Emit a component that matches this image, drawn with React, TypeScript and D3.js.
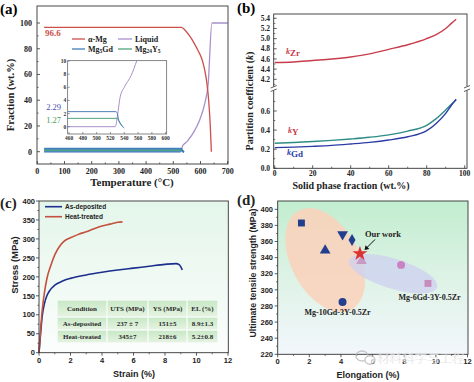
import React from 'react';
import * as d3 from 'd3';

const serif = '"Liberation Serif","Times New Roman",serif';
const sans = '"Liberation Sans",Arial,sans-serif';

// ---------- Panel (a): phase fractions vs temperature ----------
const alphaT = [25, 530, 545, 560, 575, 590, 605, 615, 623, 630, 636, 640];
const alphaF = [96.6, 96.6, 94, 90, 85, 79, 72, 64, 54, 40, 20, 0];
const liqT = [25, 527, 531, 534, 540, 550, 558, 573, 597, 616, 628, 642, 700];
const liqF = [0, 0, 2.3, 4.5, 6, 7.8, 10, 14.5, 24.6, 37.8, 52, 100, 100];
const gdT = [25, 528, 530, 532, 540];
const gdF = [2.29, 2.29, 2.0, 1.0, -0.2];
const yT = [25, 530, 532, 538];
const yF = [1.27, 1.27, 0.9, 0];
const aXTicks = [0, 100, 200, 300, 400, 500, 600, 700];
const aYTicks = [0, 20, 40, 60, 80, 100];
const insetXTicks = [460, 480, 500, 520, 540, 560, 580, 600];
const insetYTicks = [0, 2, 4, 6, 8, 10];

// ---------- Panel (b): partition coefficients ----------
const fracB = [0, 10, 20, 30, 40, 50, 60, 70, 80, 85, 90, 93, 95.5];
const kZr = [4.53, 4.54, 4.57, 4.6, 4.64, 4.7, 4.79, 4.88, 5.0, 5.08, 5.2, 5.3, 5.38];
const kY = [0.262, 0.27, 0.28, 0.292, 0.307, 0.325, 0.35, 0.39, 0.45, 0.52, 0.61, 0.67, 0.715];
const kGd = [0.216, 0.222, 0.23, 0.24, 0.255, 0.272, 0.296, 0.33, 0.394, 0.47, 0.575, 0.66, 0.725];
const bXTicks = [0, 20, 40, 60, 80, 100];
const bUpperTicks = [4.2, 4.4, 4.6, 4.8, 5.0, 5.2, 5.4];
const bLowerTicks = [0.0, 0.2, 0.4, 0.6];

// ---------- Panel (c): stress-strain ----------
const asDepStrain = [0, 0.1, 0.2, 0.35, 0.5, 0.7, 1, 1.5, 2, 3, 4, 5, 6, 7, 8, 8.7, 8.9, 9.1];
const asDepStress = [0, 50, 95, 130, 150, 165, 178, 189, 196, 205, 212, 218, 223, 228, 233, 235, 232, 218];
const heatStrain = [0, 0.1, 0.2, 0.35, 0.5, 0.75, 1, 1.3, 1.6, 2, 2.5, 3, 3.5, 4, 4.5, 5, 5.3];
const heatStress = [0, 60, 110, 160, 195, 230, 258, 280, 294, 303, 312, 319, 327, 334, 339, 344, 345];
const cXTicks = [0, 2, 4, 6, 8, 10, 12];
const cYTicks = [0, 50, 100, 150, 200, 250, 300, 350, 400];
const tableHeader = ['Condition', 'UTS (MPa)', 'YS (MPa)', 'EL (%)'];
const tableRows = [
  ['As-deposited', '237 ± 7', '151±5', '8.9±1.3'],
  ['Heat-treated', '345±7', '218±6', '5.2±0.8'],
];

// ---------- Panel (d): UTS vs elongation ----------
const dPoints = [
  { x: 1.5, y: 383, shape: 'square', color: '#223f8e' },
  { x: 4.1, y: 369, shape: 'invtri', color: '#223f8e' },
  { x: 4.7, y: 362, shape: 'diamond', color: '#223f8e' },
  { x: 3.0, y: 349, shape: 'triangle', color: '#223f8e' },
  { x: 4.1, y: 285, shape: 'circle', color: '#223f8e' },
  { x: 5.3, y: 336, shape: 'triangle', color: '#c99ac4' },
  { x: 7.8, y: 331, shape: 'circle', color: '#c983c3' },
  { x: 9.5, y: 308, shape: 'square', color: '#c78bbd' },
  { x: 5.2, y: 345, shape: 'star', color: '#db3232' },
];
const dXTicks = [0, 2, 4, 6, 8, 10, 12];
const dYTicks = [220, 240, 260, 280, 300, 320, 340, 360, 380, 400];

const zip = (xs: number[], ys: number[]) => xs.map((x, i) => [x, ys[i]] as [number, number]);

function lineOf(xs: any, ys: any, data: [number, number][], curve = d3.curveMonotoneX) {
  return d3.line<[number, number]>().x(d => xs(d[0])).y(d => ys(d[1])).curve(curve)(data) || '';
}

export default function App() {
  const xa = d3.scaleLinear().domain([0, 700]).range([37.3, 227.7]);
  const ya = d3.scaleLinear().domain([0, 100]).range([151.7, 23]);
  const xi = d3.scaleLinear().domain([460, 600]).range([69, 165.7]);
  const yi = d3.scaleLinear().domain([0, 10]).range([126.7, 61]);
  const xb = d3.scaleLinear().domain([0, 100]).range([274.7, 464.7]);
  const ybU = d3.scaleLinear().domain([4.2, 5.4]).range([79.3, 18.3]);
  const ybL = d3.scaleLinear().domain([0, 0.6]).range([168.3, 111]);
  const xc = d3.scaleLinear().domain([0, 12]).range([39, 228]);
  const yc = d3.scaleLinear().domain([0, 400]).range([352.7, 201]);
  const xd = d3.scaleLinear().domain([0, 12]).range([277.7, 467.5]);
  const yd = d3.scaleLinear().domain([220, 400]).range([354.3, 209.3]);

  const aBox = { x0: 37, x1: 228, y0: 6, y1: 164 };
  const iBox = { x0: 67.7, x1: 166.7, y0: 60.7, y1: 134 };
  const bBox = { x0: 273.7, x1: 467, y0: 14, y1: 168.3 };
  const cBox = { x0: 39, x1: 228.3, y0: 201, y1: 352.7 };
  const dBox = { x0: 277.7, x1: 468, y0: 201, y1: 354.3 };

  const cAlpha = '#cc4f4c', cLiq = '#a890cc', cGd = '#3f80b8', cY5 = '#4fa57c';

  const mid = (arr: number[]) => arr.slice(0, -1).map((v, i) => (v + arr[i + 1]) / 2);

  const symbolPath = (shape: string) => {
    const map: any = {
      square: [d3.symbolSquare, 48],
      invtri: [d3.symbolTriangle, 50],
      triangle: [d3.symbolTriangle, 50],
      diamond: [d3.symbolDiamond, 42],
      circle: [d3.symbolCircle, 50],
      star: [d3.symbolStar, 70],
    };
    const [t, s] = map[shape];
    return d3.symbol().type(t).size(s)() || '';
  };

  const ellO = { cx: 3.0, cy: 337, rx: 56, ry: 34, rot: 62 };
  const ellB = { cx: 7.3, cy: 320, rx: 46, ry: 15, rot: 17 };

  const tCols = [57, 107, 148, 187, 218];
  const tRowsY = [300, 317, 330, 343];

  return (
    <svg width={474} height={382} style={{ position: 'absolute', left: 0, top: 0, background: '#fff' }}>
      <defs>
        <linearGradient id="gd" x1="0" y1="0" x2="0" y2="1">
          <stop offset="0" stopColor="#c2edcf" />
          <stop offset="0.55" stopColor="#e0f3e8" />
          <stop offset="1" stopColor="#f2f7fc" />
        </linearGradient>
        <linearGradient id="gc" x1="0" y1="0" x2="0" y2="1">
          <stop offset="0" stopColor="#e4f6ea" />
          <stop offset="1" stopColor="#fbfdfc" />
        </linearGradient>
        <linearGradient id="gt" x1="0" y1="0" x2="0" y2="1">
          <stop offset="0" stopColor="#c9e8c6" />
          <stop offset="1" stopColor="#e4f3e1" />
        </linearGradient>
        <clipPath id="clipA"><rect x={aBox.x0} y={aBox.y0} width={aBox.x1 - aBox.x0} height={aBox.y1 - aBox.y0} /></clipPath>
        <clipPath id="clipI"><rect x={iBox.x0} y={iBox.y0} width={iBox.x1 - iBox.x0} height={iBox.y1 - iBox.y0} /></clipPath>
      </defs>

      {/* ================= Panel (a) ================= */}
      <g fontFamily={serif} fontWeight="bold">
        <text x={0} y={14} fontSize={15}>(a)</text>
        <g clipPath="url(#clipA)" fill="none">
          <path d={lineOf(xa, ya, zip(liqT, liqF))} stroke={cLiq} strokeWidth={1.3} />
          <path d={lineOf(xa, ya, zip(yT, yF))} stroke={cY5} strokeWidth={1.8} />
          <path d={lineOf(xa, ya, zip(gdT, gdF))} stroke={cGd} strokeWidth={2.2} />
          <path d={lineOf(xa, ya, zip(liqT.slice(0, 2), liqF.slice(0, 2)))} stroke="#4a88bf" strokeWidth={1.6} />
          <path d={lineOf(xa, ya, zip(alphaT, alphaF))} stroke={cAlpha} strokeWidth={1.3} />
        </g>
        <rect x={aBox.x0} y={aBox.y0} width={aBox.x1 - aBox.x0} height={aBox.y1 - aBox.y0} fill="none" stroke="#333" strokeWidth={0.9} />
        {aXTicks.map(t => (
          <g key={'ax' + t}>
            <line x1={xa(t)} x2={xa(t)} y1={aBox.y1} y2={aBox.y1 - 3} stroke="#333" strokeWidth={0.8} />
            <text x={xa(t)} y={173.5} fontSize={8} textAnchor="middle" fill="#222">{t}</text>
          </g>
        ))}
        {mid(aXTicks).map(t => (
          <line key={'axm' + t} x1={xa(t)} x2={xa(t)} y1={aBox.y1} y2={aBox.y1 - 1.6} stroke="#333" strokeWidth={0.7} />
        ))}
        {aYTicks.map(t => (
          <g key={'ay' + t}>
            <line x1={aBox.x0} x2={aBox.x0 + 3} y1={ya(t)} y2={ya(t)} stroke="#333" strokeWidth={0.8} />
            <text x={32} y={ya(t) + 2.8} fontSize={8} textAnchor="end" fill="#222">{t}</text>
          </g>
        ))}
        {mid(aYTicks).map(t => (
          <line key={'aym' + t} x1={aBox.x0} x2={aBox.x0 + 1.6} y1={ya(t)} y2={ya(t)} stroke="#333" strokeWidth={0.7} />
        ))}
        <text x={132} y={185.5} fontSize={11} textAnchor="middle" fill="#222">Temperature (°C)</text>
        <text transform="translate(14,95) rotate(-90)" fontSize={10.5} textAnchor="middle" fill="#222">Fraction (wt.%)</text>
        <text x={45} y={36} fontSize={9} fill={cAlpha}>96.6</text>

        <g fontSize={8} fill="#222">
          <line x1={72} x2={85} y1={39} y2={39} stroke={cAlpha} strokeWidth={1.3} />
          <text x={88} y={41.5}>α-Mg</text>
          <line x1={118} x2={132} y1={39} y2={39} stroke={cLiq} strokeWidth={1.3} />
          <text x={135} y={41.5}>Liquid</text>
          <line x1={72} x2={85} y1={49} y2={49} stroke={cGd} strokeWidth={1.3} />
          <text x={88} y={51.5}>Mg<tspan fontSize={5.5} dy={1.5}>5</tspan><tspan dy={-1.5}>Gd</tspan></text>
          <line x1={118} x2={132} y1={49} y2={49} stroke={cY5} strokeWidth={1.3} />
          <text x={135} y={51.5}>Mg<tspan fontSize={5.5} dy={1.5}>24</tspan><tspan dy={-1.5}>Y</tspan><tspan fontSize={5.5} dy={1.5}>5</tspan></text>
        </g>

        {/* inset */}
        <rect x={iBox.x0} y={iBox.y0} width={iBox.x1 - iBox.x0} height={iBox.y1 - iBox.y0} fill="#fff" stroke="#555" strokeWidth={0.7} />
        <g clipPath="url(#clipI)" fill="none">
          <path d={lineOf(xi, yi, zip(liqT, liqF))} stroke={cLiq} strokeWidth={1} />
          <path d={lineOf(xi, yi, zip(yT, yF))} stroke={cY5} strokeWidth={1} />
          <path d={lineOf(xi, yi, zip(gdT, gdF))} stroke="#4f7fb8" strokeWidth={1} />
        </g>
        {insetXTicks.map(t => (
          <g key={'ix' + t}>
            <line x1={xi(t)} x2={xi(t)} y1={iBox.y1} y2={iBox.y1 - 2} stroke="#555" strokeWidth={0.6} />
            <text x={xi(t)} y={140} fontSize={5.5} textAnchor="middle" fill="#333">{t}</text>
          </g>
        ))}
        {insetYTicks.map(t => (
          <g key={'iy' + t}>
            <line x1={iBox.x0} x2={iBox.x0 + 2} y1={yi(t)} y2={yi(t)} stroke="#555" strokeWidth={0.6} />
            <text x={iBox.x0 - 1.5} y={yi(t) + 2} fontSize={5.5} textAnchor="end" fill="#333">{t}</text>
          </g>
        ))}
        <text x={61} y={110} fontSize={8.5} textAnchor="end" fill="#4a4cae" fontWeight="normal">2.29</text>
        <text x={61} y={123} fontSize={8.5} textAnchor="end" fill="#4a9a5c" fontWeight="normal">1.27</text>
      </g>

      {/* ================= Panel (b) ================= */}
      <g fontFamily={serif} fontWeight="bold">
        <text x={237} y={13} fontSize={15}>(b)</text>
        <g fill="none">
          <path d={lineOf(xb, ybU, zip(fracB, kZr))} stroke="#c83d4c" strokeWidth={1.4} />
          <path d={lineOf(xb, ybL, zip(fracB, kY))} stroke="#2e8c86" strokeWidth={1.4} />
          <path d={lineOf(xb, ybL, zip(fracB, kGd))} stroke="#2c3ca6" strokeWidth={1.4} />
        </g>
        <rect x={bBox.x0} y={bBox.y0} width={bBox.x1 - bBox.x0} height={bBox.y1 - bBox.y0} fill="none" stroke="#333" strokeWidth={0.9} />
        <rect x={bBox.x0 - 2} y={86.5} width={4} height={4} fill="#fff" />
        <rect x={bBox.x1 - 2} y={86.5} width={4} height={4} fill="#fff" />
        {[bBox.x0, bBox.x1].map(x => (
          <g key={'brk' + x} stroke="#333" strokeWidth={0.8}>
            <line x1={x - 3} x2={x + 3} y1={88} y2={85.5} />
            <line x1={x - 3} x2={x + 3} y1={91.5} y2={89} />
          </g>
        ))}
        {bXTicks.map(t => (
          <g key={'bx' + t}>
            <line x1={xb(t)} x2={xb(t)} y1={bBox.y1} y2={bBox.y1 - 3} stroke="#333" strokeWidth={0.8} />
            <text x={xb(t)} y={176} fontSize={7.5} textAnchor="middle" fill="#222">{t}</text>
          </g>
        ))}
        {mid(bXTicks).map(t => (
          <line key={'bxm' + t} x1={xb(t)} x2={xb(t)} y1={bBox.y1} y2={bBox.y1 - 1.6} stroke="#333" strokeWidth={0.7} />
        ))}
        {bUpperTicks.map(t => (
          <g key={'bu' + t}>
            <line x1={bBox.x0} x2={bBox.x0 + 3} y1={ybU(t)} y2={ybU(t)} stroke="#333" strokeWidth={0.8} />
            <text x={270} y={ybU(t) + 2.6} fontSize={7.5} textAnchor="end" fill="#222">{t.toFixed(1)}</text>
          </g>
        ))}
        {[4.1, 4.3, 4.5, 4.7, 4.9, 5.1, 5.3].map(t => (
          <line key={'bum' + t} x1={bBox.x0} x2={bBox.x0 + 1.6} y1={ybU(t)} y2={ybU(t)} stroke="#333" strokeWidth={0.7} />
        ))}
        {bLowerTicks.map(t => (
          <g key={'bl' + t}>
            <line x1={bBox.x0} x2={bBox.x0 + 3} y1={ybL(t)} y2={ybL(t)} stroke="#333" strokeWidth={0.8} />
            <text x={270} y={ybL(t) + 2.6} fontSize={7.5} textAnchor="end" fill="#222">{t.toFixed(1)}</text>
          </g>
        ))}
        {[0.1, 0.3, 0.5, 0.7].map(t => (
          <line key={'blm' + t} x1={bBox.x0} x2={bBox.x0 + 1.6} y1={ybL(t)} y2={ybL(t)} stroke="#333" strokeWidth={0.7} />
        ))}
        <text x={351} y={189} fontSize={10} textAnchor="middle" fill="#222">Solid phase fraction (wt.%)</text>
        <text transform="translate(253,101) rotate(-90)" fontSize={10} textAnchor="middle" fill="#222">
          Partition coefficient (<tspan fontStyle="italic">k</tspan>)
        </text>
        <text x={286} y={54} fill="#c83d4c"><tspan fontSize={8} fontStyle="italic">k</tspan><tspan fontSize={9} dy={2}>Zr</tspan></text>
        <text x={288} y={133} fill="#c83d4c"><tspan fontSize={8} fontStyle="italic">k</tspan><tspan fontSize={9} dy={2}>Y</tspan></text>
        <text x={287} y={155} fill="#2c3ca6"><tspan fontSize={8} fontStyle="italic">k</tspan><tspan fontSize={9} dy={2}>Gd</tspan></text>
      </g>

      {/* ================= Panel (c) ================= */}
      <g>
        <rect x={cBox.x0} y={cBox.y0} width={cBox.x1 - cBox.x0} height={cBox.y1 - cBox.y0} fill="url(#gc)" />
        {[tableHeader, ...tableRows].map((row, ri) =>
          row.map((cell, ci) => (
            <g key={'tc' + ri + '-' + ci}>
              <rect x={tCols[ci] + 0.7} y={tRowsY[ri] + 0.7} width={tCols[ci + 1] - tCols[ci] - 1.4} height={tRowsY[ri + 1] - tRowsY[ri] - 1.4} fill="url(#gt)" />
              <text x={(tCols[ci] + tCols[ci + 1]) / 2} y={(tRowsY[ri] + tRowsY[ri + 1]) / 2 + 2.4} fontSize={7} fontFamily={serif} fontWeight="bold" textAnchor="middle" fill="#2a2a2a">{cell}</text>
            </g>
          ))
        )}
        <g fill="none">
          <path d={lineOf(xc, yc, zip(asDepStrain, asDepStress))} stroke="#1c2f8e" strokeWidth={1.6} />
          <path d={lineOf(xc, yc, zip(heatStrain, heatStress))} stroke="#c4513d" strokeWidth={1.6} />
        </g>
        <rect x={cBox.x0} y={cBox.y0} width={cBox.x1 - cBox.x0} height={cBox.y1 - cBox.y0} fill="none" stroke="#333" strokeWidth={0.9} />
        <g fontFamily={sans} fontWeight="bold" fill="#222">
          <text x={0} y={208} fontSize={15} fontFamily={serif}>(c)</text>
          {cXTicks.map(t => (
            <g key={'cx' + t}>
              <line x1={xc(t)} x2={xc(t)} y1={cBox.y1} y2={cBox.y1 + 3} stroke="#333" strokeWidth={0.8} />
              <text x={xc(t)} y={362.5} fontSize={7.5} textAnchor="middle">{t}</text>
            </g>
          ))}
          {mid(cXTicks).map(t => (
            <line key={'cxm' + t} x1={xc(t)} x2={xc(t)} y1={cBox.y1} y2={cBox.y1 + 1.6} stroke="#333" strokeWidth={0.7} />
          ))}
          {cYTicks.map(t => (
            <g key={'cy' + t}>
              <line x1={cBox.x0} x2={cBox.x0 - 3} y1={yc(t)} y2={yc(t)} stroke="#333" strokeWidth={0.8} />
              <text x={35} y={yc(t) + 2.7} fontSize={7.5} textAnchor="end">{t}</text>
            </g>
          ))}
          {mid(cYTicks).map(t => (
            <line key={'cym' + t} x1={cBox.x0} x2={cBox.x0 - 1.6} y1={yc(t)} y2={yc(t)} stroke="#333" strokeWidth={0.7} />
          ))}
          <text x={134} y={377} fontSize={9} textAnchor="middle">Strain (%)</text>
          <text transform="translate(18,265) rotate(-90)" fontSize={9.5} textAnchor="middle">Stress (MPa)</text>
          <line x1={45} x2={62} y1={206.7} y2={206.7} stroke="#1c2f8e" strokeWidth={1.6} />
          <text x={65} y={209} fontSize={6.5}>As-deposited</text>
          <line x1={45} x2={62} y1={216.7} y2={216.7} stroke="#c4513d" strokeWidth={1.6} />
          <text x={65} y={219} fontSize={6.5}>Heat-treated</text>
        </g>
      </g>

      {/* ================= Panel (d) ================= */}
      <g>
        <rect x={dBox.x0} y={dBox.y0} width={dBox.x1 - dBox.x0} height={dBox.y1 - dBox.y0} fill="url(#gd)" />
        <ellipse cx={0} cy={0} rx={ellO.rx} ry={ellO.ry} fill="#fcd1bb" opacity={0.85}
          transform={`translate(${xd(ellO.cx)},${yd(ellO.cy)}) rotate(${ellO.rot})`} />
        <ellipse cx={0} cy={0} rx={ellB.rx} ry={ellB.ry} fill="#cdd0f0" opacity={0.75}
          transform={`translate(${xd(ellB.cx)},${yd(ellB.cy)}) rotate(${ellB.rot})`} />
        {dPoints.map((p, i) => (
          <path key={'dp' + i} d={symbolPath(p.shape)} fill={p.color}
            transform={`translate(${xd(p.x)},${yd(p.y)})${p.shape === 'invtri' ? ' rotate(180)' : ''}`} />
        ))}
        <rect x={dBox.x0} y={dBox.y0} width={dBox.x1 - dBox.x0} height={dBox.y1 - dBox.y0} fill="none" stroke="#333" strokeWidth={0.9} />
        <g fontFamily={serif} fontWeight="bold" fill="#222">
          <text x={237} y={205} fontSize={15}>(d)</text>
          <text x={365} y={236.5} fontSize={8.5}>Our work</text>
          <line x1={375} y1={239.5} x2={366.5} y2={248} stroke="#111" strokeWidth={1} />
          <path d="M364.5,250 L365.6,245.2 L369.3,248.9 Z" fill="#111" />
          <text x={337.5} y={314.5} fontSize={8} textAnchor="middle">Mg-10Gd-3Y-0.5Zr</text>
          <text x={429.5} y={299.5} fontSize={8} textAnchor="middle">Mg-6Gd-3Y-0.5Zr</text>
        </g>
        <g fontFamily={sans} fontWeight="bold" fill="#222">
          {dXTicks.map(t => (
            <g key={'dx' + t}>
              <line x1={xd(t)} x2={xd(t)} y1={dBox.y1} y2={dBox.y1 + 3} stroke="#333" strokeWidth={0.8} />
              <text x={xd(t)} y={364} fontSize={7.5} textAnchor="middle">{t}</text>
            </g>
          ))}
          {mid(dXTicks).map(t => (
            <line key={'dxm' + t} x1={xd(t)} x2={xd(t)} y1={dBox.y1} y2={dBox.y1 + 1.6} stroke="#333" strokeWidth={0.7} />
          ))}
          {dYTicks.map(t => (
            <g key={'dy' + t}>
              <line x1={dBox.x0} x2={dBox.x0 - 3} y1={yd(t)} y2={yd(t)} stroke="#333" strokeWidth={0.8} />
              <text x={273} y={yd(t) + 2.7} fontSize={7.5} textAnchor="end">{t}</text>
            </g>
          ))}
          {mid(dYTicks).map(t => (
            <line key={'dym' + t} x1={dBox.x0} x2={dBox.x0 - 1.6} y1={yd(t)} y2={yd(t)} stroke="#333" strokeWidth={0.7} />
          ))}
          <text x={368} y={378} fontSize={9} textAnchor="middle">Elongation (%)</text>
          <text transform="translate(256,273) rotate(-90)" fontSize={8.8} textAnchor="middle">Ultimate tensile strength (MPa)</text>
        </g>
        <g opacity={0.75}>
          <ellipse cx={362} cy={356} rx={6} ry={5} fill="none" stroke="#b8b8b8" strokeWidth={1.4} />
          <ellipse cx={370} cy={360} rx={5} ry={4.2} fill="#fff" stroke="#b8b8b8" strokeWidth={1.4} />
          <text x={377} y={363} fontSize={12.5} fontFamily='"Noto Sans CJK SC",sans-serif' fill="#c4c4c4" stroke="#fff" strokeWidth={0.4}>材料科学与工程</text>
        </g>
      </g>
    </svg>
  );
}
